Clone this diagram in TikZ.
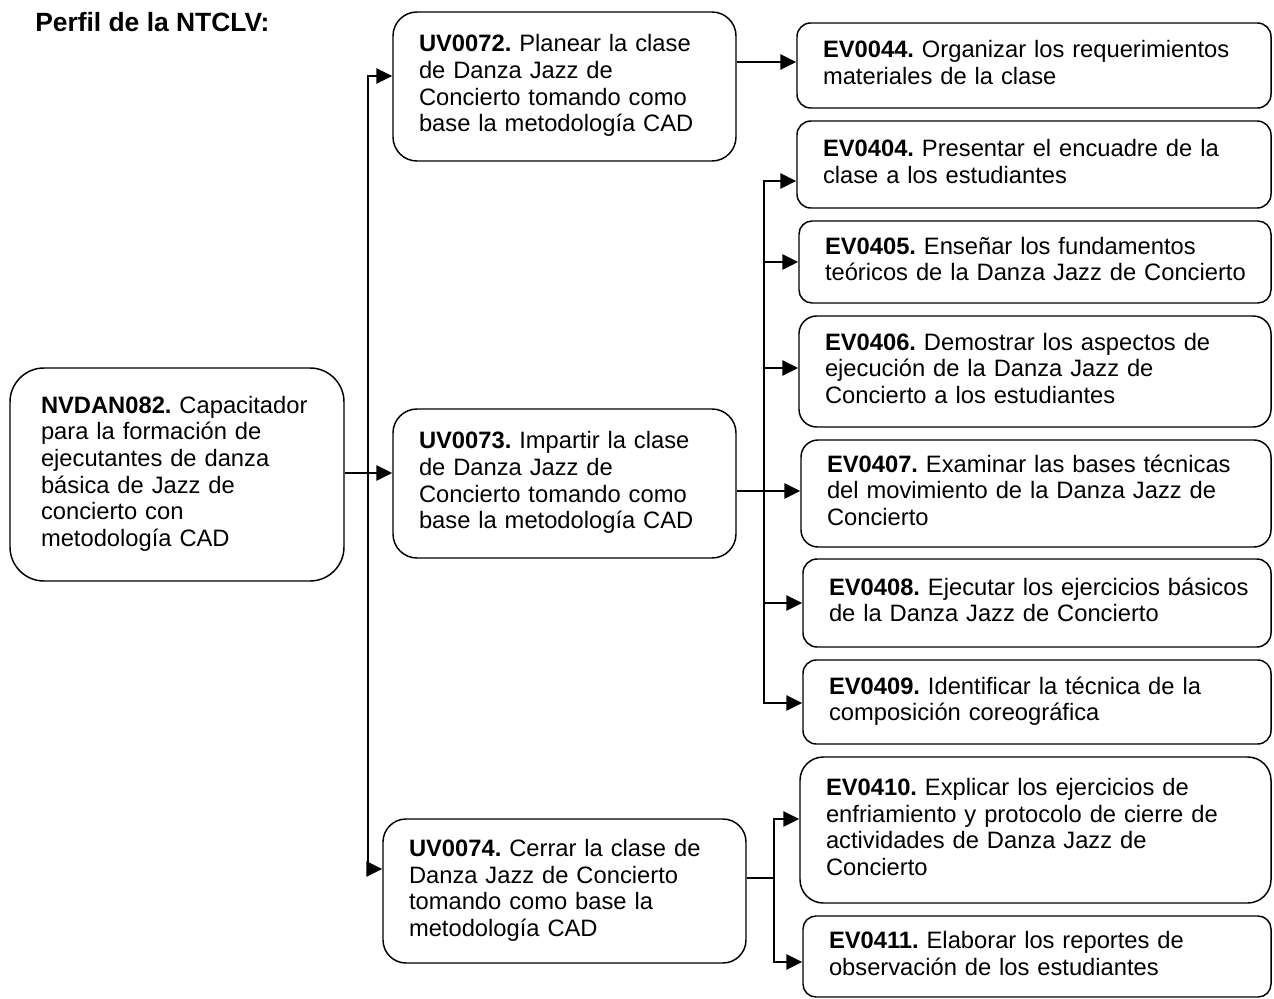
\documentclass[tikz,border=0pt]{standalone}
\usepackage{fontspec}
\setmainfont{Liberation Sans}
\usetikzlibrary{arrows.meta,calc}
\frenchspacing
\newcommand{\boxtxt}[1]{\begin{tabular}{@{}l@{}}#1\end{tabular}}
\begin{document}
\begin{tikzpicture}[x=0.75pt,y=-0.75pt,
  box/.style={draw, line width=1.1pt, align=left, inner xsep=19.5pt, inner ysep=0pt,
    font=\fontsize{17.8}{20}\selectfont\frenchspacing},
  conn/.style={line width=1.4pt},
  arr/.style={conn, -{Triangle[length=12pt,width=11.5pt]}}]
\useasboundingbox (0,0) rectangle (1274,999);

\node[anchor=base west, inner sep=0pt, font=\fontsize{19.8}{22}\selectfont\bfseries\frenchspacing] (title) at (35,32) {Perfil de la NTCLV:};

\node[box, inner xsep=23.25pt, minimum width=250.5pt, minimum height=159.75pt, text width=204pt, rounded corners=25.5pt] (nv) at (177,474.5)
  {\boxtxt{\textbf{NVDAN082.} Capacitador\\para la formación de\\ejecutantes de danza\\básica de Jazz de\\concierto con\\metodología CAD}};

\node[box, minimum width=257.25pt, minimum height=111.75pt, text width=218.25pt, rounded corners=18pt] (uv72) at (564.5,86.5)
  {\boxtxt{\textbf{UV0072.} Planear la clase\\de Danza Jazz de\\Concierto tomando como\\base la metodología CAD}};
\node[box, minimum width=257.25pt, minimum height=111.75pt, text width=218.25pt, rounded corners=18pt] (uv73) at (564.5,483.5)
  {\boxtxt{\textbf{UV0073.} Impartir la clase\\de Danza Jazz de\\Concierto tomando como\\base la metodología CAD}};
\node[box, minimum width=272.25pt, minimum height=108pt, text width=233.25pt, rounded corners=17.3pt] (uv74) at (564.5,891)
  {\boxtxt{\textbf{UV0074.} Cerrar la clase de\\Danza Jazz de Concierto\\tomando como base la\\metodología CAD}};

\node[box, minimum width=355.5pt, minimum height=63.75pt, text width=316.5pt, rounded corners=10.2pt] (ev44) at (1034,65.5)
  {\boxtxt{\textbf{EV0044.} Organizar los requerimientos\\materiales de la clase}};
\node[box, minimum width=355.5pt, minimum height=65.25pt, text width=316.5pt, rounded corners=10.4pt] (ev404) at (1034,164.5)
  {\boxtxt{\textbf{EV0404.} Presentar el encuadre de la\\clase a los estudiantes}};
\node[box, minimum width=354pt, minimum height=61.5pt, text width=315pt, rounded corners=9.8pt] (ev405) at (1035,262)
  {\boxtxt{\textbf{EV0405.} Enseñar los fundamentos\\teóricos de la Danza Jazz de Concierto}};
\node[box, minimum width=354pt, minimum height=83.25pt, text width=315pt, rounded corners=13.3pt] (ev406) at (1035,371.5)
  {\boxtxt{\textbf{EV0406.} Demostrar los aspectos de\\ejecución de la Danza Jazz de\\Concierto a los estudiantes}};
\node[box, minimum width=352.5pt, minimum height=80.25pt, text width=313.5pt, rounded corners=12.8pt] (ev407) at (1036,493.5)
  {\boxtxt{\textbf{EV0407.} Examinar las bases técnicas\\del movimiento de la Danza Jazz de\\Concierto}};
\node[box, minimum width=351pt, minimum height=66pt, text width=312pt, rounded corners=10.6pt] (ev408) at (1037,603)
  {\boxtxt{\textbf{EV0408.} Ejecutar los ejercicios básicos\\de la Danza Jazz de Concierto}};
\node[box, minimum width=351pt, minimum height=63pt, text width=312pt, rounded corners=10pt] (ev409) at (1037,702)
  {\boxtxt{\textbf{EV0409.} Identificar la técnica de la\\composición coreográfica}};
\node[box, minimum width=353.25pt, minimum height=109.5pt, text width=314.25pt, rounded corners=17.5pt] (ev410) at (1035.5,830)
  {\boxtxt{\textbf{EV0410.} Explicar los ejercicios de\\enfriamiento y protocolo de cierre de\\actividades de Danza Jazz de\\Concierto}};
\node[box, minimum width=351pt, minimum height=60.75pt, text width=312pt, rounded corners=9.7pt] (ev411) at (1037,956.5)
  {\boxtxt{\textbf{EV0411.} Elaborar los reportes de\\observación de los estudiantes}};

% connectors from NV
\draw[arr] ($(nv.east)+(0,-1.5)$) -- ($(uv73.west)+(0,-10.5)$);
\coordinate (j) at ($(nv.east)+(23,-1.5)$);
\draw[arr] (j) |- ($(uv72.west)+(0,-10.5)$);
\draw[arr] (j) |- ($(uv74.west)+(0,-22)$);

% UV0072
\draw[arr] ($(uv72.east)+(0,-24.5)$) -- ($(ev44.west)+(0,-3.5)$);

% UV0073
\draw[arr] ($(uv73.east)+(0,7.5)$) -- ($(ev407.west)+(0,-2.5)$);
\coordinate (bj) at ($(uv73.east)+(27,7.5)$);
\draw[arr] (bj) |- ($(ev404.west)+(0,16.5)$);
\draw[arr] (bj) |- ($(ev409.west)+(0,1)$);
\draw[arr] (bj |- ev405.west) -- (ev405.west);
\draw[arr] ($(bj |- ev406.west)+(0,-3.5)$) -- ($(ev406.west)+(0,-3.5)$);
\draw[arr] (bj |- ev408.west) -- (ev408.west);

% UV0074
\coordinate (cj) at ($(uv74.east)+(27,-13)$);
\draw[conn] ($(uv74.east)+(0,-13)$) -- (cj);
\draw[arr] (cj) |- ($(ev410.west)+(0,-11)$);
\draw[arr] (cj) |- ($(ev411.west)+(0,5.5)$);
\end{tikzpicture}
\end{document}
